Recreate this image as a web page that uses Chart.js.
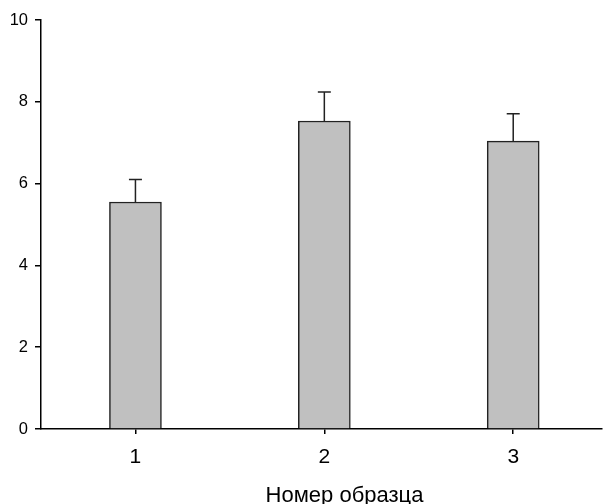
<!DOCTYPE html>
<html>
<head>
<meta charset="utf-8">
<script src="https://cdn.jsdelivr.net/npm/chart.js@4"></script>
<style>
  html, body { margin: 0; padding: 0; background: #fff; overflow: hidden; }
  canvas { display: block; }
</style>
</head>
<body>
<canvas id="myChart" width="603" height="504"></canvas>
<script>
// sample numbers and measured means with their upper error
const samples = [1, 2, 3];
const means = [5.55, 7.53, 7.04];
const errors = [0.55, 0.71, 0.67];
const yTicks = [0, 2, 4, 6, 8, 10];
const xTitle = 'Номер образца';

const font = 'Liberation Sans, Arial, sans-serif';

// upward error bars with a small cap, drawn after the bars
const errorBars = {
  id: 'errorBars',
  afterDatasetsDraw(chart) {
    const { ctx, scales: { x, y } } = chart;
    ctx.save();
    ctx.strokeStyle = '#222';
    ctx.lineWidth = 1.5;
    samples.forEach((s, i) => {
      const px = x.getPixelForValue(s);
      const yBar = y.getPixelForValue(means[i]);
      const yTop = y.getPixelForValue(means[i] + errors[i]);
      ctx.beginPath();
      ctx.moveTo(px, yBar);
      ctx.lineTo(px, yTop);
      ctx.moveTo(px - 6.5, yTop);
      ctx.lineTo(px + 6.5, yTop);
      ctx.stroke();
    });
    ctx.restore();
  }
};

// axis title, sits a little right of the axis middle
const axisTitle = {
  id: 'axisTitle',
  afterDraw(chart) {
    const { ctx, chartArea } = chart;
    ctx.save();
    ctx.fillStyle = '#000';
    ctx.font = '22px ' + font;
    ctx.textAlign = 'center';
    ctx.textBaseline = 'alphabetic';
    ctx.fillText(xTitle, (chartArea.left + chartArea.right) / 2 + 23, 501.5);
    ctx.restore();
  }
};

const ctx = document.getElementById('myChart').getContext('2d');
const myChart = new Chart(ctx, {
  type: 'bar',
  data: {
    datasets: [{
      data: samples.map((s, i) => ({ x: s, y: means[i] })),
      backgroundColor: '#c0c0c0',
      borderColor: '#222',
      borderWidth: 1.5,
      barThickness: 52
    }]
  },
  options: {
    responsive: false,
    animation: false,
    layout: { padding: { top: 20, right: 1, left: 0, bottom: 0 } },
    plugins: { legend: { display: false }, tooltip: { enabled: false } },
    scales: {
      x: {
        type: 'linear',
        min: 0.5,
        max: 3.47,
        offset: false,
        afterBuildTicks: (scale) => { scale.ticks = samples.map(v => ({ value: v })); },
        afterFit: (scale) => { scale.height = 75; },
        grid: { offset: false, drawOnChartArea: false, drawTicks: true, tickLength: 5, color: '#000', lineWidth: 1.5 },
        border: { display: true, color: '#000', width: 1.5 },
        ticks: { color: '#000', font: { family: font, size: 21 }, padding: 11, maxRotation: 0 }
      },
      y: {
        min: 0,
        max: 10,
        afterBuildTicks: (scale) => { scale.ticks = yTicks.map(v => ({ value: v })); },
        afterFit: (scale) => { scale.width = 41; },
        grid: { drawOnChartArea: false, drawTicks: true, tickLength: 6, color: '#000', lineWidth: 1.5 },
        border: { display: true, color: '#000', width: 1.5 },
        ticks: { color: '#000', font: { family: font, size: 16.5 }, padding: 7 }
      }
    }
  },
  plugins: [errorBars, axisTitle]
});
</script>
</body>
</html>
